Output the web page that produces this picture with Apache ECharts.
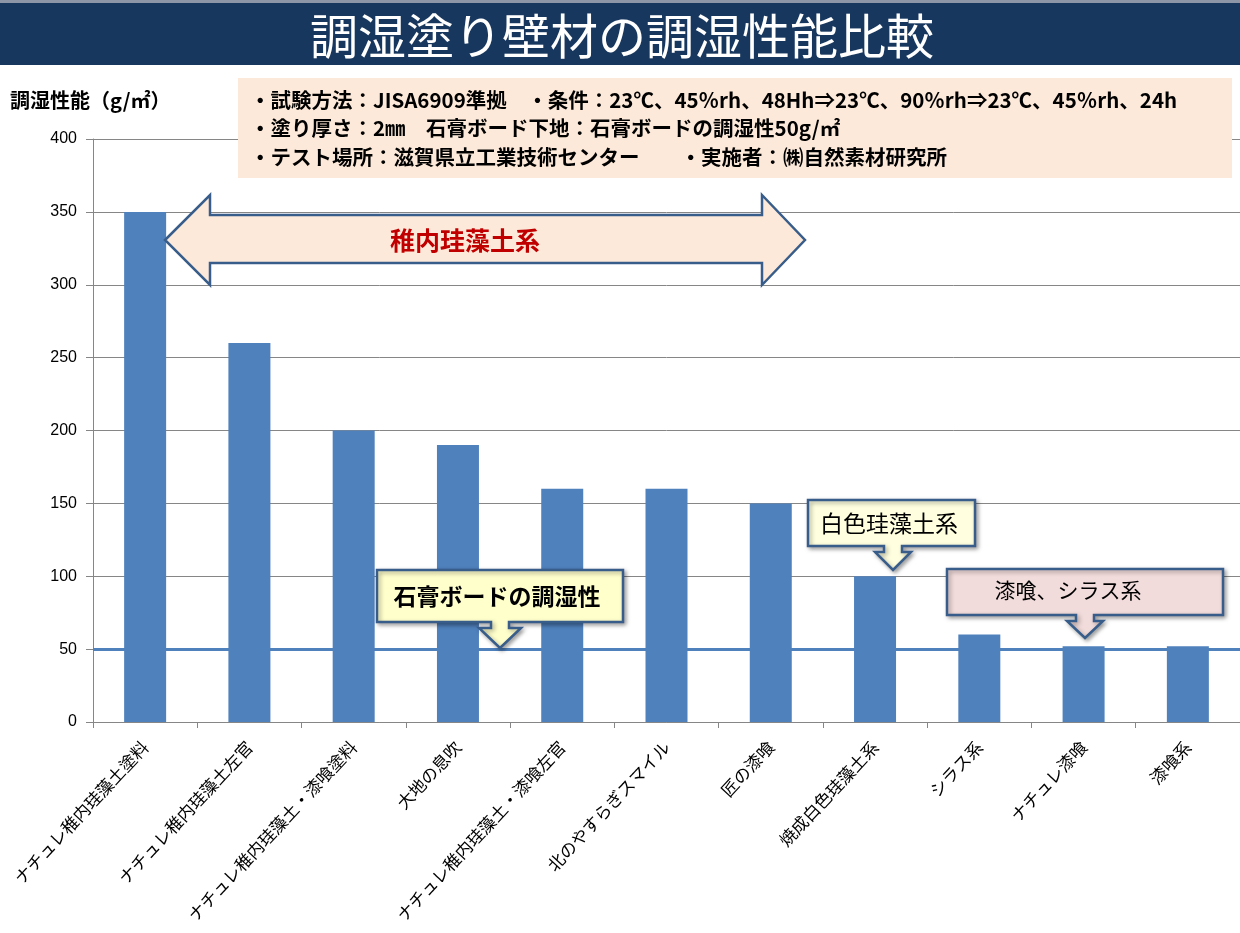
<!DOCTYPE html>
<html><head><meta charset="utf-8">
<script src="https://cdn.jsdelivr.net/npm/echarts@6/dist/echarts.min.js"></script>
<style>html,body{margin:0;padding:0;background:#fff}#c{width:1240px;height:933px}</style>
</head><body><div id="c"></div>
<script>
const categories = ['ナチュレ稚内珪藻土塗料','ナチュレ稚内珪藻土左官','ナチュレ稚内珪藻土・漆喰塗料','大地の息吹','ナチュレ稚内珪藻土・漆喰左官','北のやすらぎスマイル','匠の漆喰','焼成白色珪藻土系','シラス系','ナチュレ漆喰','漆喰系'];
const values = [350, 260, 200, 190, 160, 160, 150, 100, 60, 52, 52];
const gypsumLevel = 50;
const yTicks = [0, 50, 100, 150, 200, 250, 300, 350, 400];
const title = '調湿塗り壁材の調湿性能比較';
const yTitle = '調湿性能（g/㎡）';
const infoLines = [
  '・試験方法：JISA6909準拠　・条件：23℃、45％rh、48Hh⇒23℃、90％rh⇒23℃、45％rh、24h',
  '・塗り厚さ：2㎜　石膏ボード下地：石膏ボードの調湿性50g/㎡',
  '・テスト場所：滋賀県立工業技術センター　　・実施者：㈱自然素材研究所'
];
const notes = {wakkanai:'稚内珪藻土系', gypsum:'石膏ボードの調湿性', white:'白色珪藻土系', shikkui:'漆喰、シラス系'};

const JP = '"Noto Sans CJK JP","Noto Sans",sans-serif';
const chart = echarts.init(document.getElementById('c'));
const stroke = '#385D8A';
function callout(x1,y1,x2,y2,cx,sw,hw,hy,ty,fill){
  return {type:'polygon', z:20, shape:{points:[[x1,y1],[x2,y1],[x2,y2],[cx+sw,y2],[cx+sw,hy],[cx+hw,hy],[cx,ty],[cx-hw,hy],[cx-sw,hy],[cx-sw,y2],[x1,y2]]},
    style:{fill:fill, stroke:stroke, lineWidth:2.5, shadowBlur:4, shadowOffsetX:2, shadowOffsetY:2, shadowColor:'rgba(0,0,0,0.35)'}};
}
const option = {
  animation:false,
  textStyle:{fontFamily:JP},
  grid:{left:93, right:0, top:139, bottom:211, containLabel:false, outerBoundsMode:'none'},
  xAxis:{type:'category', data:categories,
    axisLine:{lineStyle:{color:'#868686', width:1}},
    axisTick:{show:true, length:6, lineStyle:{color:'#868686'}},
    axisLabel:{rotate:47, color:'#000', fontSize:17, fontFamily:JP, margin:22, interval:0}},
  yAxis:{type:'value', min:yTicks[0], max:yTicks[yTicks.length-1], interval:yTicks[1]-yTicks[0],
    axisLine:{show:true, lineStyle:{color:'#868686'}},
    axisTick:{show:true, length:7, lineStyle:{color:'#868686'}},
    axisLabel:{color:'#000', fontSize:16, fontFamily:'"Liberation Sans",Arial,sans-serif', margin:16},
    splitLine:{lineStyle:{color:'#868686', width:1}}},
  series:[{type:'bar', data:values, barWidth:42, itemStyle:{color:'#4F81BD'}, z:2,
    markLine:{silent:true, symbol:'none', label:{show:false}, z:3,
      lineStyle:{color:'#4F81BD', width:3, type:'solid'}, data:[{yAxis:gypsumLevel}]}}],
  graphic:[
    {type:'rect', z:10, shape:{x:0,y:0,width:1240,height:3}, style:{fill:'#8C96A6'}},
    {type:'rect', z:10, shape:{x:0,y:3,width:1240,height:62}, style:{fill:'#17375E'}},
    {type:'text', z:11, x:622, y:36, style:{text:title, fill:'#fff', font:'48px '+JP, textAlign:'center', textVerticalAlign:'middle'}},
    {type:'text', z:11, x:10, y:100, style:{text:yTitle, fill:'#000', font:'bold 20px '+JP, textVerticalAlign:'middle'}},
    {type:'rect', z:10, shape:{x:238,y:78,width:994,height:100}, style:{fill:'#FDE9D9'}},
    {type:'text', z:11, x:250, y:100, style:{text:infoLines[0], fill:'#000', font:'bold 20.5px '+JP, textVerticalAlign:'middle'}},
    {type:'text', z:11, x:250, y:128, style:{text:infoLines[1], fill:'#000', font:'bold 20.5px '+JP, textVerticalAlign:'middle'}},
    {type:'text', z:11, x:250, y:157, style:{text:infoLines[2], fill:'#000', font:'bold 20.5px '+JP, textVerticalAlign:'middle'}},
    {type:'polygon', z:20, shape:{points:[[165,240],[210,195],[210,215],[762,215],[762,195],[805,240],[762,285],[762,263],[210,263],[210,285]]},
      style:{fill:'#FDE9D9', stroke:stroke, lineWidth:2.5}},
    {type:'text', z:21, x:465, y:240, style:{text:notes.wakkanai, fill:'#C00000', font:'bold 25px '+JP, textAlign:'center', textVerticalAlign:'middle'}},
    callout(377,570,623,622,500,9,21,628,648,'#FFFFCC'),
    {type:'text', z:21, x:497, y:596, style:{text:notes.gypsum, fill:'#000', font:'bold 23px '+JP, textAlign:'center', textVerticalAlign:'middle'}},
    callout(808,500,975,546,893,9,18,552,570,'#FFFFE0'),
    {type:'text', z:21, x:889, y:523, style:{text:notes.white, fill:'#000', font:'23px '+JP, textAlign:'center', textVerticalAlign:'middle'}},
    callout(947,569,1223,615,1085,9,18,621,638,'#F2DCDB'),
    {type:'text', z:21, x:1068, y:590, style:{text:notes.shikkui, fill:'#000', font:'21px '+JP, textAlign:'center', textVerticalAlign:'middle'}}
  ]
};
chart.setOption(option);
</script></body></html>
